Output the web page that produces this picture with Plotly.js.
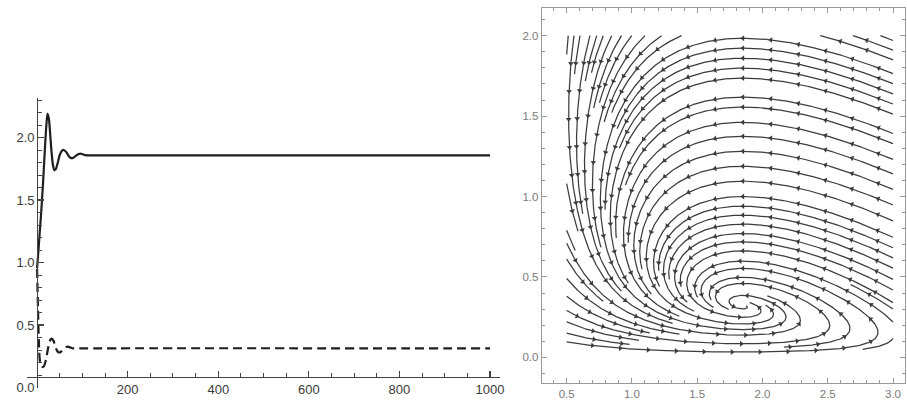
<!DOCTYPE html>
<html><head><meta charset="utf-8">
<script src="https://cdn.plot.ly/plotly-3.0.1.min.js"></script>
<style>html,body{margin:0;padding:0;background:#fff}#chart{width:907px;height:401px}</style>
</head><body><div id="chart"></div>
<script>
// ---------- Left panel: time series ----------
const timeSolid   = [0, 3, 6, 9, 12, 15, 18, 20.5, 23, 26, 29, 32, 35, 38, 41, 45, 50, 55, 59, 64, 70, 75, 80, 86, 92, 97, 103, 110, 130, 1000];
const solidValues = [0.956, 1.10, 1.25, 1.40, 1.57, 1.76, 1.96, 2.10, 2.19, 2.15, 2.02, 1.88, 1.78, 1.74, 1.745, 1.79, 1.86, 1.895, 1.90, 1.885, 1.85, 1.835, 1.838, 1.855, 1.868, 1.87, 1.862, 1.857, 1.857, 1.857];
const timeDashed   = [0, 2, 4, 6, 9, 12, 15, 18, 21, 24, 27, 30, 33, 36, 39, 42, 46, 50, 54, 58, 62, 66, 70, 75, 80, 88, 100, 1000];
const dashedValues = [0.95, 0.62, 0.36, 0.22, 0.18, 0.165, 0.17, 0.20, 0.25, 0.31, 0.36, 0.385, 0.39, 0.375, 0.345, 0.31, 0.285, 0.28, 0.29, 0.305, 0.318, 0.326, 0.325, 0.318, 0.313, 0.312, 0.313, 0.313];
const leftXTicks = [200, 400, 600, 800, 1000];
const leftYTicks = [0, 0.5, 1.0, 1.5, 2.0];

// ---------- Right panel: stream plot ----------
// direction field u = A - B*x - x*y , v = C*y*(x - X0)  (shape fitted to the picture)
const fieldParams = [0.845, 0.137, 0.771, 1.85];
const streamDomain = [0.5, 3.0, 0.0, 2.0];
// streamline seeds
const archSeedX = 1.85;
const archSeedY = [1.984, 1.922, 1.860, 1.798, 1.736, 1.618, 1.556, 1.461, 1.374, 1.281, 1.188, 1.095, 1.0, 0.94, 0.884, 0.828, 0.770, 0.718, 0.662, 0.553, 0.46, 0.40];
const lowSeedX = 1.87;
const lowSeedY = [0.256, 0.20, 0.138, 0.103, 0.056, 0.014];
const spiralSeedX = [2.99, 2.86, 2.75, 2.60, 2.45, 2.30, 2.15];
const spiralSeedY = [0.108, 0.19, 0.26, 0.27, 0.28, 0.29, 0.30];
const topSeedX = [0.512, 0.556, 0.602, 0.64, 0.678, 0.73, 0.78, 0.845, 0.92, 0.998, 1.10, 1.227, 1.38];
const leftSeedY = [1.08, 0.79, 0.61, 0.49, 0.38, 0.29, 0.22, 0.15, 0.08];
const rightSeedY = [1.97, 1.91, 1.85, 1.79, 1.72, 0.30, 0.22, 0.15, 0.08];
const rightXTicks = [0.5, 1.0, 1.5, 2.0, 2.5, 3.0];
const rightYTicks = [0.0, 0.5, 1.0, 1.5, 2.0];

// ---- streamline tracing (pixel-scaled space) ----
const SX = 130.7, SY = 161;
const dTest = 4.5, dStart = 5.5, hStep = 1.0, arrowGap = 28, selfGap = 40;
const eqX = fieldParams[3], eqY = fieldParams[0] / fieldParams[3] - fieldParams[1];
const grid = new Map();
function gk(i, j) { return i + ',' + j; }
function addPt(px, py, id, s) {
  const k = gk(Math.floor(px / dTest), Math.floor(py / dTest));
  if (!grid.has(k)) grid.set(k, []);
  grid.get(k).push([px, py, id, s]);
}
function near(px, py, id, s, d) {
  const i = Math.floor(px / dTest), j = Math.floor(py / dTest), r = Math.ceil(d / dTest);
  for (let a = -r; a <= r; a++) for (let b = -r; b <= r; b++) {
    const arr = grid.get(gk(i + a, j + b)); if (!arr) continue;
    for (const q of arr) {
      if (q[2] === id && Math.abs(q[3] - s) < selfGap) continue;
      if (Math.hypot(q[0] - px, q[1] - py) < d) return true;
    }
  }
  return false;
}
function field(x, y) { const [A, B, C, X0] = fieldParams; return [A - B * x - x * y, C * y * (x - X0)]; }
function dir(px, py, sg) {
  const f = field(px / SX, py / SY); const a = f[0] * SX, b = f[1] * SY; const n = Math.hypot(a, b);
  if (n < 1e-9) return null; return [sg * a / n, sg * b / n];
}
function rk4(p, sg) {
  const h = hStep;
  const k1 = dir(p[0], p[1], sg); if (!k1) return null;
  const k2 = dir(p[0] + h / 2 * k1[0], p[1] + h / 2 * k1[1], sg); if (!k2) return null;
  const k3 = dir(p[0] + h / 2 * k2[0], p[1] + h / 2 * k2[1], sg); if (!k3) return null;
  const k4 = dir(p[0] + h * k3[0], p[1] + h * k3[1], sg); if (!k4) return null;
  return [p[0] + h / 6 * (k1[0] + 2 * k2[0] + 2 * k3[0] + k4[0]), p[1] + h / 6 * (k1[1] + 2 * k2[1] + 2 * k3[1] + k4[1])];
}
function inside(p) { const x = p[0] / SX, y = p[1] / SY; return x >= streamDomain[0] && x <= streamDomain[1] && y >= streamDomain[2] && y <= streamDomain[3]; }
function clip(p, q) {
  let t = 1; const xs = [streamDomain[0] * SX, streamDomain[1] * SX], ys = [streamDomain[2] * SY, streamDomain[3] * SY];
  const dx = q[0] - p[0], dy = q[1] - p[1];
  for (const bx of xs) if (dx !== 0) { const tt = (bx - p[0]) / dx; if (tt >= 0 && tt < t) t = tt; }
  for (const by of ys) if (dy !== 0) { const tt = (by - p[1]) / dy; if (tt >= 0 && tt < t) t = tt; }
  return [p[0] + dx * t, p[1] + dy * t];
}
function half(p0, sg, id) {
  const pts = []; let p = p0.slice(); let s = 0;
  const sink = [eqX * SX, eqY * SY];
  for (let n = 0; n < 3000; n++) {
    const q = rk4(p, sg); if (!q) break;
    if (!inside(q)) { pts.push(clip(p, q)); break; }
    s += hStep;
    if (Math.hypot(q[0] - sink[0], q[1] - sink[1]) < 3) break;
    if (near(q[0], q[1], id, sg * s, dTest)) break;
    pts.push(q); addPt(q[0], q[1], id, sg * s); p = q;
  }
  return pts;
}
const lineX = [], lineY = [], arrX = [], arrY = [], arrA = [];
let lineId = 0;
function trace(x, y) {
  const p0 = [x * SX, y * SY];
  if (!inside(p0)) return;
  const id = ++lineId;
  if (near(p0[0], p0[1], id, 0, dStart)) return;
  addPt(p0[0], p0[1], id, 0);
  const bwd = half(p0, -1, id), fwd = half(p0, 1, id);
  const pts = bwd.slice().reverse().concat([p0], fwd);
  const s0 = -bwd.length * hStep, s1 = fwd.length * hStep;
  if (s1 - s0 < 8) return;
  for (const q of pts) { lineX.push(q[0] / SX); lineY.push(q[1] / SY); }
  lineX.push(null); lineY.push(null);
  for (let k = Math.ceil((s0 + 4) / arrowGap); k * arrowGap <= s1 - 4; k++) {
    const idx = Math.round((k * arrowGap - s0) / hStep);
    const q = pts[Math.min(Math.max(idx, 0), pts.length - 1)];
    const d = dir(q[0], q[1], 1); if (!d) continue;
    arrX.push(q[0] / SX); arrY.push(q[1] / SY);
    arrA.push(Math.atan2(d[0], d[1]) * 180 / Math.PI);
  }
}
archSeedY.forEach(y => trace(archSeedX, y));
lowSeedY.forEach(y => trace(lowSeedX, y));
spiralSeedX.forEach((x, i) => trace(x, spiralSeedY[i]));
topSeedX.forEach(x => trace(x, 2.0 - 1e-6));
leftSeedY.forEach(y => trace(0.5 + 1e-6, y));
rightSeedY.forEach(y => trace(3.0 - 1e-6, y));

// ---------- figure ----------
const W = 907, H = 401;
const streamColor = '#3c3c3c';
const data = [
  { x: timeSolid, y: solidValues, xaxis: 'x', yaxis: 'y', mode: 'lines', line: { color: '#1e1e1e', width: 2.2, shape: 'spline', smoothing: 0.8 } },
  { x: timeDashed, y: dashedValues, xaxis: 'x', yaxis: 'y', mode: 'lines', line: { color: '#1e1e1e', width: 2.2, dash: '9px,5px', shape: 'spline', smoothing: 0.8 } },
  { x: lineX, y: lineY, xaxis: 'x2', yaxis: 'y2', mode: 'lines', line: { color: streamColor, width: 1.25 } },
  { x: arrX, y: arrY, xaxis: 'x2', yaxis: 'y2', mode: 'markers', marker: { symbol: 'triangle-up', size: 5, angle: arrA, color: streamColor, line: { width: 0 } } }
];
const leftFont = { family: 'Liberation Sans, Arial, sans-serif', size: 13, color: '#3a3a3a' };
const rightFont = { family: 'Liberation Sans, Arial, sans-serif', size: 11.5, color: '#7a7a7a' };
const layout = {
  width: W, height: H, margin: { l: 0, r: 0, t: 0, b: 0 }, showlegend: false,
  paper_bgcolor: '#fff', plot_bgcolor: 'rgba(0,0,0,0)',
  xaxis: {
    domain: [27 / W, 500 / W], range: [-22.3, 1022], anchor: 'free', position: 1 - 376.7 / H,
    showline: true, linecolor: '#444', linewidth: 1.2, showgrid: false, zeroline: false,
    tickmode: 'array', tickvals: leftXTicks, ticktext: leftXTicks.map(String), ticks: 'inside', ticklen: 6, tickcolor: '#444', tickwidth: 1.2,
    minor: { tickmode: 'array', tickvals: [50, 100, 150, 250, 300, 350, 450, 500, 550, 650, 700, 750, 850, 900, 950], ticks: 'inside', ticklen: 3.5, tickcolor: '#444', tickwidth: 1 },
    tickfont: leftFont
  },
  yaxis: {
    domain: [1 - 387.5 / H, 1 - 98 / H], range: [0, 2.316], anchor: 'free', position: 37.1 / W,
    showline: true, linecolor: '#444', linewidth: 1.2, showgrid: false, zeroline: false,
    tickmode: 'array', tickvals: leftYTicks, ticktext: leftYTicks.map(v => v.toFixed(1)), ticks: 'inside', ticklen: 6, tickcolor: '#444', tickwidth: 1.2,
    minor: { tickmode: 'array', tickvals: [0.1, 0.2, 0.3, 0.4, 0.6, 0.7, 0.8, 0.9, 1.1, 1.2, 1.3, 1.4, 1.6, 1.7, 1.8, 1.9, 2.1, 2.2, 2.3], ticks: 'inside', ticklen: 3.5, tickcolor: '#444', tickwidth: 1 },
    tickfont: leftFont
  },
  xaxis2: {
    domain: [541.7 / W, 905 / W], range: [0.5 - 25 / SX, 3.0 + 12 / SX], anchor: 'y2',
    showline: true, mirror: 'ticks', linecolor: '#999', linewidth: 1, showgrid: false, zeroline: false,
    tickmode: 'array', tickvals: rightXTicks, ticktext: rightXTicks.map(v => v.toFixed(1)), ticks: 'inside', ticklen: 5, tickcolor: '#999', tickwidth: 1,
    minor: { dtick: 0.1, tick0: 0, ticks: 'inside', ticklen: 3, tickcolor: '#999', tickwidth: 1 },
    tickfont: rightFont
  },
  yaxis2: {
    domain: [1 - 383.3 / H, 1 - 8.3 / H], range: [0 - 26 / SY, 2.0 + 27.4 / SY], anchor: 'x2',
    showline: true, mirror: 'ticks', linecolor: '#999', linewidth: 1, showgrid: false, zeroline: false,
    tickmode: 'array', tickvals: rightYTicks, ticktext: rightYTicks.map(v => v.toFixed(1)), ticks: 'inside', ticklen: 5, tickcolor: '#999', tickwidth: 1,
    minor: { dtick: 0.1, tick0: 0, ticks: 'inside', ticklen: 3, tickcolor: '#999', tickwidth: 1 },
    tickfont: rightFont
  }
};
Plotly.newPlot('chart', data, layout, { staticPlot: true, displayModeBar: false });
</script>
</body></html>
